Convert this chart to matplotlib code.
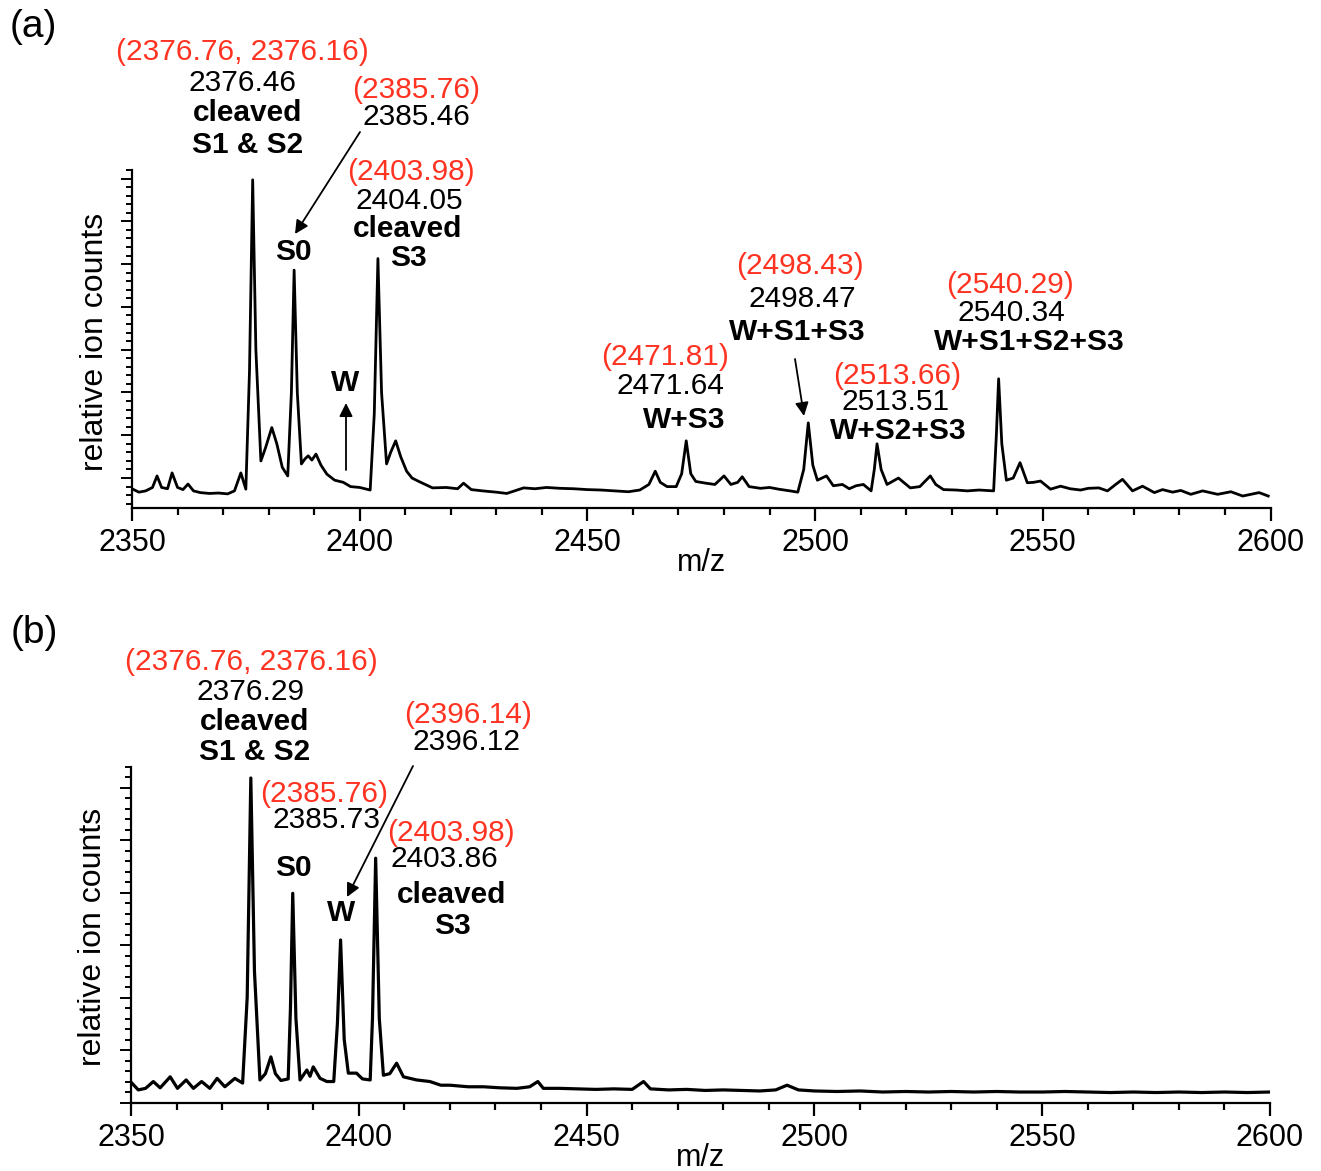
import numpy as np
import matplotlib
matplotlib.use("Agg")
import matplotlib.pyplot as plt
from matplotlib.ticker import MultipleLocator

plt.rcParams['font.family'] = ['Liberation Sans', 'DejaVu Sans']

# spectrum (a): m/z and relative ion counts (1 unit = 1 major tick)
mz_a = [2350.0, 2351.5, 2353.0, 2354.5, 2355.5, 2356.5, 2357.8, 2358.8, 2360.0, 2361.2,
        2362.3, 2363.5, 2365.0, 2367.0, 2369.0, 2371.0, 2372.5, 2373.9, 2375.0, 2375.8,
        2376.5, 2377.2, 2378.3, 2379.3, 2380.7, 2381.8, 2383.0, 2384.2, 2385.0, 2385.6,
        2386.3, 2387.2, 2388.0, 2388.7, 2389.5, 2390.4, 2391.5, 2392.8, 2394.5, 2396.4,
        2398.0, 2400.0, 2402.3, 2403.2, 2404.0, 2404.8, 2405.9, 2406.8, 2407.9, 2409.0,
        2410.3, 2411.5, 2413.0, 2416.0, 2419.0, 2421.5, 2422.8, 2424.5, 2427.0, 2430.0,
        2432.3, 2434.0, 2436.0, 2438.5, 2441.0, 2444.0, 2447.0, 2450.0, 2453.0, 2456.0,
        2459.0, 2461.5, 2463.5, 2464.9, 2466.0, 2467.5, 2469.5, 2470.7, 2471.7, 2472.7,
        2473.8, 2476.0, 2478.0, 2480.0, 2481.5, 2483.0, 2484.0, 2485.5, 2488.0, 2490.0,
        2492.0, 2494.5, 2496.2, 2497.5, 2498.5, 2499.5, 2500.5, 2502.5, 2504.0, 2506.0,
        2507.5, 2509.0, 2510.6, 2512.3, 2513.0, 2513.6, 2514.5, 2515.8, 2518.3, 2520.9,
        2523.0, 2525.3, 2526.5, 2528.2, 2531.0, 2533.4, 2536.0, 2539.2, 2539.8, 2540.3,
        2541.0, 2542.0, 2543.5, 2545.0, 2546.6, 2548.0, 2549.5, 2551.7, 2553.9, 2556.0,
        2558.3, 2560.0, 2562.3, 2564.2, 2566.0, 2567.5, 2569.7, 2571.9, 2574.5, 2576.3,
        2578.5, 2580.3, 2582.5, 2585.1, 2588.4, 2591.3, 2593.9, 2597.5, 2599.5]
counts_a = [-0.25, -0.33, -0.30, -0.22, 0.05, -0.22, -0.25, 0.12, -0.22, -0.27,
            -0.14, -0.30, -0.34, -0.36, -0.35, -0.37, -0.30, 0.12, -0.26, 2.5,
            6.97, 3.0, 0.40, 0.70, 1.18, 0.80, 0.25, 0.05, 2.0, 4.86,
            2.0, 0.33, 0.45, 0.52, 0.42, 0.56, 0.30, 0.09, -0.05, -0.10,
            -0.20, -0.22, -0.28, 1.5, 5.13, 2.0, 0.33, 0.60, 0.87, 0.50,
            0.16, 0.0, -0.08, -0.23, -0.22, -0.25, -0.12, -0.27, -0.30, -0.33,
            -0.36, -0.30, -0.23, -0.25, -0.22, -0.24, -0.25, -0.27, -0.28, -0.30,
            -0.32, -0.28, -0.15, 0.16, -0.10, -0.20, -0.20, 0.10, 0.87, 0.10,
            -0.08, -0.12, -0.15, 0.05, -0.15, -0.10, 0.03, -0.20, -0.24, -0.22,
            -0.26, -0.30, -0.33, 0.20, 1.29, 0.30, -0.05, 0.05, -0.18, -0.15,
            -0.25, -0.18, -0.15, -0.30, 0.20, 0.80, 0.20, -0.15, 0.0, -0.23,
            -0.20, 0.05, -0.15, -0.27, -0.28, -0.30, -0.28, -0.30, 1.0, 2.32,
            0.80, -0.05, 0.0, 0.36, -0.11, -0.10, -0.07, -0.26, -0.19, -0.25,
            -0.28, -0.24, -0.23, -0.30, -0.15, -0.03, -0.30, -0.19, -0.34, -0.27,
            -0.33, -0.29, -0.38, -0.30, -0.38, -0.32, -0.42, -0.34, -0.42]

# spectrum (b)
mz_b = [2350.2, 2351.6, 2353.2, 2354.9, 2356.4, 2358.6, 2360.2, 2362.1, 2363.7, 2365.5,
        2367.3, 2368.9, 2370.6, 2372.8, 2374.5, 2375.5, 2376.3, 2377.1, 2378.3, 2379.5,
        2380.7, 2381.7, 2382.9, 2384.5, 2385.0, 2385.5, 2386.2, 2387.1, 2388.6, 2389.3,
        2390.0, 2391.5, 2393.0, 2394.5, 2395.3, 2396.0, 2396.8, 2397.7, 2399.5, 2400.8,
        2402.5, 2403.0, 2403.7, 2404.5, 2405.4, 2406.8, 2408.3, 2409.8, 2412.7, 2415.6,
        2418.0, 2420.0, 2424.0, 2427.4, 2431.0, 2434.7, 2437.5, 2439.3, 2440.5, 2444.0,
        2448.0, 2452.0, 2456.0, 2460.0, 2462.5, 2464.0, 2468.0, 2472.0, 2476.0, 2480.0,
        2484.0, 2488.0, 2491.5, 2494.0, 2496.5, 2500.0, 2505.0, 2510.0, 2515.0, 2520.0,
        2525.0, 2530.0, 2535.0, 2540.0, 2545.0, 2550.0, 2555.0, 2560.0, 2565.0, 2570.0,
        2575.0, 2580.0, 2585.0, 2590.0, 2595.0, 2600.0]
counts_b = [0.37, 0.24, 0.27, 0.40, 0.28, 0.49, 0.27, 0.43, 0.27, 0.40,
            0.27, 0.46, 0.30, 0.46, 0.37, 2.0, 6.19, 2.5, 0.43, 0.55,
            0.87, 0.55, 0.42, 0.45, 1.8, 3.99, 1.6, 0.43, 0.62, 0.50,
            0.68, 0.46, 0.40, 0.40, 1.5, 3.10, 1.2, 0.56, 0.56, 0.45,
            0.43, 1.6, 4.66, 1.6, 0.52, 0.55, 0.75, 0.49, 0.43, 0.40,
            0.33, 0.33, 0.30, 0.30, 0.28, 0.27, 0.30, 0.40, 0.27, 0.27,
            0.26, 0.25, 0.26, 0.25, 0.40, 0.26, 0.24, 0.25, 0.23, 0.24,
            0.23, 0.22, 0.24, 0.33, 0.24, 0.22, 0.21, 0.22, 0.20, 0.21,
            0.20, 0.21, 0.20, 0.21, 0.20, 0.20, 0.21, 0.20, 0.19, 0.20,
            0.19, 0.20, 0.19, 0.20, 0.19, 0.20]

W, H = 1321, 1171
RED = '#ff3322'
fig = plt.figure(figsize=(W / 100, H / 100), dpi=100)


def style_axes(ax, ylim):
    ax.patch.set_visible(False)
    ax.set_xlim(2350, 2600)
    ax.set_ylim(*ylim)
    for s in ['top', 'right']:
        ax.spines[s].set_visible(False)
    for s in ['left', 'bottom']:
        ax.spines[s].set_linewidth(1.6)
    ax.xaxis.set_major_locator(MultipleLocator(50))
    ax.xaxis.set_minor_locator(MultipleLocator(10))
    ax.yaxis.set_major_locator(MultipleLocator(1))
    ax.yaxis.set_minor_locator(MultipleLocator(0.2))
    ax.tick_params(axis='x', which='major', direction='out', length=9.5, width=1.6,
                   labelsize=22, pad=5)
    ax.tick_params(axis='x', which='minor', direction='out', length=5, width=1.6)
    ax.tick_params(axis='y', which='major', direction='out', length=8, width=1.4,
                   labelleft=False)
    ax.tick_params(axis='y', which='minor', direction='out', length=4.5, width=1.4)
    ax.set_xlabel('m/z', fontsize=22, labelpad=-7)


def label(x, y, s, color='black', bold=False, size=21.5):
    fig.text(x / W, 1 - y / H, s, ha='center', va='center', color=color,
             fontsize=size, fontweight='bold' if bold else 'normal')


def arrow(x1, y1, x2, y2):
    ax_b.annotate('', xy=(x2, H - y2), xytext=(x1, H - y1), xycoords='figure pixels',
                  textcoords='figure pixels', annotation_clip=False, zorder=10,
                  arrowprops=dict(arrowstyle='-|>', color='black', lw=1.3,
                                  mutation_scale=20, shrinkA=0, shrinkB=0))


# panel (a)
ax_a = fig.add_axes([132 / W, 1 - 508 / H, 1138.5 / W, 338 / H])
ax_a.plot(mz_a, counts_a, color='black', lw=2.0)
style_axes(ax_a, (-0.70, 7.2))

# panel (b)
ax_b = fig.add_axes([131 / W, 1 - 1102.5 / H, 1139 / W, 335.5 / H])
ax_b.plot(mz_b, counts_b, color='black', lw=2.3)
style_axes(ax_b, (0, 6.4))

fig.text(95 / W, 1 - 342 / H, 'relative ion counts', rotation=90, ha='center',
         va='center', fontsize=23)
fig.text(93 / W, 1 - 937 / H, 'relative ion counts', rotation=90, ha='center',
         va='center', fontsize=23)
label(33, 27, '(a)', size=28)
label(34, 633, '(b)', size=28)

# annotations (a)
label(242, 52, '(2376.76, 2376.16)', RED)
label(242, 83, '2376.46')
label(248, 113, 'cleaved', bold=True)
label(248, 145, 'S1 & S2', bold=True)
label(416, 90, '(2385.76)', RED)
label(416, 117, '2385.46')
arrow(360, 132, 295, 234)
label(293, 252, 'S0', bold=True)
label(411, 172, '(2403.98)', RED)
label(409, 201, '2404.05')
label(408, 229, 'cleaved', bold=True)
label(408, 258, 'S3', bold=True)
label(345, 383, 'W', bold=True)
arrow(346, 470, 346, 403)
label(665, 357, '(2471.81)', RED)
label(670, 386, '2471.64')
label(684, 420, 'W+S3', bold=True)
label(800, 266, '(2498.43)', RED)
label(802, 299, '2498.47')
label(797, 332, 'W+S1+S3', bold=True)
arrow(795, 359, 804, 416)
label(897, 376, '(2513.66)', RED)
label(896, 402, '2513.51')
label(898, 431, 'W+S2+S3', bold=True)
label(1010, 285, '(2540.29)', RED)
label(1011, 313, '2540.34')
label(1029, 342, 'W+S1+S2+S3', bold=True)

# annotations (b)
label(251, 662, '(2376.76, 2376.16)', RED)
label(251, 692, '2376.29')
label(255, 722, 'cleaved', bold=True)
label(255, 752, 'S1 & S2', bold=True)
label(324, 794, '(2385.76)', RED)
label(326, 820, '2385.73')
label(293, 868, 'S0', bold=True)
label(468, 715, '(2396.14)', RED)
label(466, 742, '2396.12')
arrow(413, 766, 347, 897)
label(341, 913, 'W', bold=True)
label(451, 833, '(2403.98)', RED)
label(444, 859, '2403.86')
label(452, 895, 'cleaved', bold=True)
label(452, 926, 'S3', bold=True)

fig.savefig('out.png', dpi=100)
